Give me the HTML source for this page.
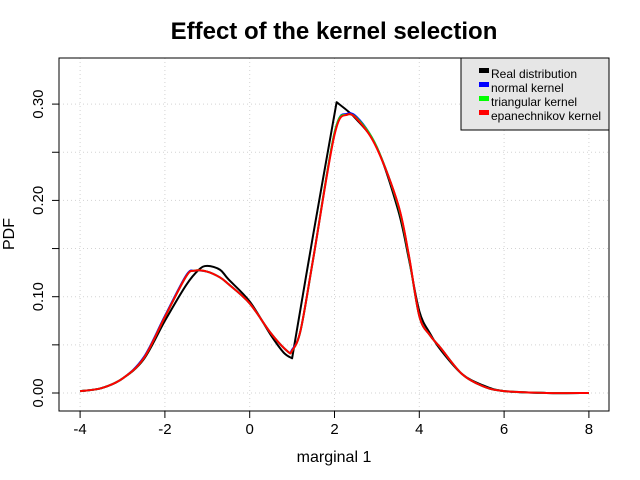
<!DOCTYPE html>
<html><head><meta charset="utf-8"><style>body{margin:0;background:#fff}svg{display:block;font-family:"Liberation Sans",sans-serif}</style></head><body>
<svg id="c" width="640" height="480">
<text x="334" y="39" text-anchor="middle" font-size="24" font-weight="bold">Effect of the kernel selection</text>
<text x="334" y="462" text-anchor="middle" font-size="16">marginal 1</text>
<text transform="translate(14,234) rotate(-90)" text-anchor="middle" font-size="16">PDF</text>
<g id="grid"></g><g id="axes"></g><g id="series"></g>
<rect x="59" y="58" width="550" height="353" fill="none" stroke="#000"/>
<g>
<rect x="461" y="58" width="148" height="72" fill="#e6e6e6" stroke="#000"/>
<g id="leg"></g></g>
</svg>
<script>
const xs=[-4,-3.5,-3,-2.5,-2,-1.5,-1.2,-1,-0.7,-0.5,0,0.5,0.8,1.0,1.5,2.05,2.5,3,3.5,3.75,4,4.25,4.5,5,5.5,6,7,8];
const realY=[0.002,0.005,0.015,0.035,0.075,0.112,0.128,0.132,0.128,0.118,0.095,0.06,0.042,0.036,0.165,0.302,0.285,0.255,0.19,0.14,0.085,0.062,0.045,0.02,0.008,0.002,0,0];
const realKinks=[1.0,2.05];
const kx=[-4,-3.5,-3,-2.5,-2,-1.5,-1.3,-1,-0.7,-0.5,0,0.5,0.9,1.0,1.2,1.5,2.0,2.3,2.6,3,3.5,3.75,4.0,4.25,4.5,5,5.5,6,7,8];
const normalY=[0.002,0.005,0.015,0.037,0.08,0.122,0.127,0.126,0.12,0.113,0.093,0.062,0.043,0.045,0.065,0.14,0.27,0.29,0.283,0.255,0.195,0.143,0.08,0.06,0.047,0.02,0.007,0.002,0,0];
const triY=[0.002,0.005,0.015,0.036,0.079,0.121,0.127,0.126,0.12,0.113,0.093,0.062,0.043,0.044,0.065,0.14,0.27,0.289,0.282,0.255,0.195,0.143,0.08,0.06,0.047,0.02,0.007,0.002,0,0];
const epaY=[0.002,0.005,0.015,0.036,0.079,0.121,0.127,0.126,0.12,0.113,0.093,0.062,0.043,0.044,0.065,0.14,0.268,0.289,0.281,0.254,0.196,0.144,0.08,0.06,0.047,0.02,0.007,0.002,0,0];
const xTicks=[-4,-2,0,2,4,6,8];
const yTicks=[0,0.05,0.1,0.15,0.2,0.25,0.3];
const yLabels=["0.00","","0.10","","0.20","","0.30"];
const legLabels=["Real distribution","normal kernel","triangular kernel","epanechnikov kernel"];
const legColors=["#000","#00f","#0f0","#f00"];
const X=v=>249.7+v*42.4, Y=v=>393-v*963;
const NS="http://www.w3.org/2000/svg";
function mk(t,a,p){const e=document.createElementNS(NS,t);for(const k in a)e.setAttribute(k,a[k]);p.appendChild(e);return e;}
const g=document.getElementById('grid'),ax=document.getElementById('axes'),s=document.getElementById('series'),lg=document.getElementById('leg');
xTicks.forEach(v=>{
 const l=mk('line',{x1:X(v),x2:X(v),y1:58,y2:411,stroke:'#d3d3d3','stroke-dasharray':'1,3'},g);
 
 
 const t=mk('line',{x1:X(v),x2:X(v),y1:411,y2:418,stroke:'#000'},ax);
 
 
 const tx=mk('text',{x:X(v),y:434,'text-anchor':'middle','font-size':15},ax);tx.textContent=v;
 
 
});
yTicks.forEach((v,i)=>{
 const l=mk('line',{x1:59,x2:609,y1:Y(v),y2:Y(v),stroke:'#d3d3d3','stroke-dasharray':'1,3'},g);
 
 
 const t=mk('line',{x1:52,x2:59,y1:Y(v),y2:Y(v),stroke:'#000'},ax);
 
 
 if(yLabels[i]){const tx=mk('text',{transform:`translate(43,${Y(v)}) rotate(-90)`,'text-anchor':'middle','font-size':15},ax);tx.textContent=yLabels[i];
 
 }
});
function smoothSeg(P){
 let d='';
 for(let i=0;i<P.length-1;i++){
  const p0=P[Math.max(0,i-1)],p1=P[i],p2=P[i+1],p3=P[Math.min(P.length-1,i+2)];
  const c1=[p1[0]+(p2[0]-p0[0])/6,p1[1]+(p2[1]-p0[1])/6],c2=[p2[0]-(p3[0]-p1[0])/6,p2[1]-(p3[1]-p1[1])/6];
  d+=` C${c1} ${c2} ${p2}`;
 }
 return d;
}
function line(xa,ya,c,name,kinks){
 const pts=xa.map((x,i)=>[X(x),Y(ya[i])]);
 let d='M'+pts[0],seg=[pts[0]];
 for(let i=1;i<pts.length;i++){seg.push(pts[i]);if(kinks&&kinks.includes(xa[i])){d+=smoothSeg(seg);seg=[pts[i]];}}
 if(seg.length>1)d+=smoothSeg(seg);
 const p=mk('path',{d:d,fill:'none',stroke:c,'stroke-width':2,'stroke-linejoin':'round'},s);
 
 }
line(xs,realY,'#000','real-distribution-line',realKinks);
line(kx,normalY,'#00f','normal-kernel-line');
line(kx,triY,'#0f0','triangular-kernel-line');
line(kx,epaY,'#f00','epanechnikov-kernel-line');
legLabels.forEach((t,i)=>{
 const r=mk('rect',{x:479,y:68+i*14,width:10,height:5,fill:legColors[i]},lg);
 
 
 const tx=mk('text',{x:491,y:78+i*14,'font-size':12},lg);tx.textContent=t;
 
 
});
</script>
</body></html>
